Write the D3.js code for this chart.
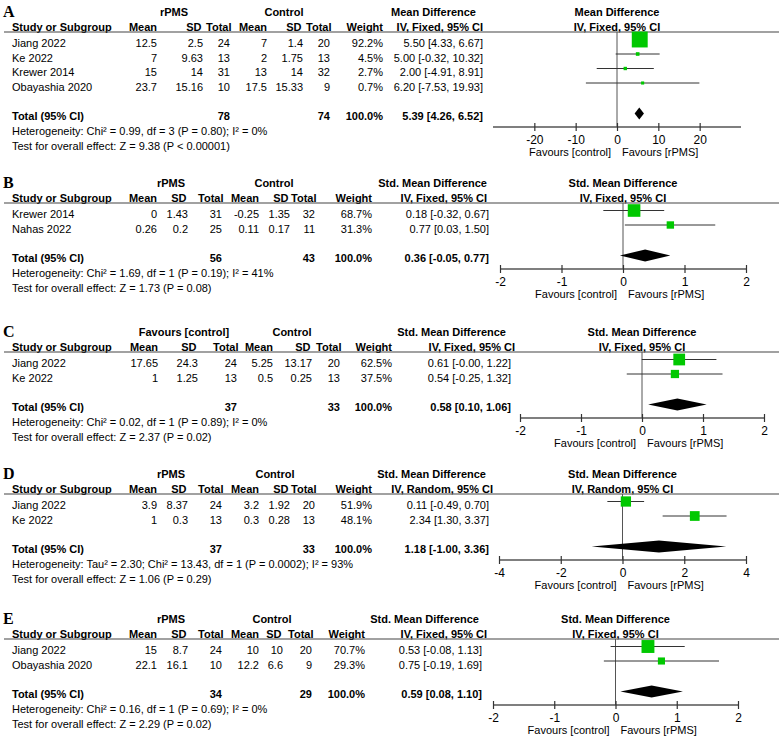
<!DOCTYPE html>
<html>
<head>
<meta charset="utf-8">
<script src="https://cdn.jsdelivr.net/npm/d3@7"></script>
<style>
  body { margin: 0; background: #fff; }
  svg text { font-family: "Liberation Sans", Arial, sans-serif; font-size: 11px; fill: #000; }
  svg text.b { font-weight: bold; }
  svg text.letter { font-family: "Liberation Serif", "Times New Roman", serif; font-size: 16px; font-weight: bold; }
  svg text.tick { font-size: 12px; }
</style>
</head>
<body>
<svg id="chart" width="780" height="737"></svg>
<script>
// ---- data ----
var colHeads = ["Mean", "SD", "Total", "Mean", "SD", "Total", "Weight"];

var studiesA = [
  {name: "Jiang 2022",     m1: 12.5, sd1: 2.5,   n1: 24, m2: 7,    sd2: 1.4,   n2: 20, w: 92.2, est: 5.50, lo: 4.33,  hi: 6.67},
  {name: "Ke 2022",        m1: 7,    sd1: 9.63,  n1: 13, m2: 2,    sd2: 1.75,  n2: 13, w: 4.5,  est: 5.00, lo: -0.32, hi: 10.32},
  {name: "Krewer 2014",    m1: 15,   sd1: 14,    n1: 31, m2: 13,   sd2: 14,    n2: 32, w: 2.7,  est: 2.00, lo: -4.91, hi: 8.91},
  {name: "Obayashia 2020", m1: 23.7, sd1: 15.16, n1: 10, m2: 17.5, sd2: 15.33, n2: 9,  w: 0.7,  est: 6.20, lo: -7.53, hi: 19.93}
];
var totalA = {n1: 78, n2: 74, est: 5.39, lo: 4.26, hi: 6.52};
var textA = ["Heterogeneity: Chi\u00b2 = 0.99, df = 3 (P = 0.80); I\u00b2 = 0%", "Test for overall effect: Z = 9.38 (P < 0.00001)"];
var ticksA = [-20, -10, 0, 10, 20];

var studiesB = [
  {name: "Krewer 2014", m1: 0,    sd1: 1.43, n1: 31, m2: -0.25, sd2: 1.35, n2: 32, w: 68.7, est: 0.18, lo: -0.32, hi: 0.67},
  {name: "Nahas 2022",  m1: 0.26, sd1: 0.2,  n1: 25, m2: 0.11,  sd2: 0.17, n2: 11, w: 31.3, est: 0.77, lo: 0.03,  hi: 1.50}
];
var totalB = {n1: 56, n2: 43, est: 0.36, lo: -0.05, hi: 0.77};
var textB = ["Heterogeneity: Chi\u00b2 = 1.69, df = 1 (P = 0.19); I\u00b2 = 41%", "Test for overall effect: Z = 1.73 (P = 0.08)"];
var ticksB = [-2, -1, 0, 1, 2];

var studiesC = [
  {name: "Jiang 2022", m1: 17.65, sd1: 24.3, n1: 24, m2: 5.25, sd2: 13.17, n2: 20, w: 62.5, est: 0.61, lo: -0.004, hi: 1.22},
  {name: "Ke 2022",    m1: 1,     sd1: 1.25, n1: 13, m2: 0.5,  sd2: 0.25,  n2: 13, w: 37.5, est: 0.54, lo: -0.25,  hi: 1.32}
];
var totalC = {n1: 37, n2: 33, est: 0.58, lo: 0.10, hi: 1.06};
var textC = ["Heterogeneity: Chi\u00b2 = 0.02, df = 1 (P = 0.89); I\u00b2 = 0%", "Test for overall effect: Z = 2.37 (P = 0.02)"];
var ticksC = [-2, -1, 0, 1, 2];

var studiesD = [
  {name: "Jiang 2022", m1: 3.9, sd1: 8.37, n1: 24, m2: 3.2, sd2: 1.92, n2: 20, w: 51.9, est: 0.11, lo: -0.49, hi: 0.70},
  {name: "Ke 2022",    m1: 1,   sd1: 0.3,  n1: 13, m2: 0.3, sd2: 0.28, n2: 13, w: 48.1, est: 2.34, lo: 1.30,  hi: 3.37}
];
var totalD = {n1: 37, n2: 33, est: 1.18, lo: -1.00, hi: 3.36};
var textD = ["Heterogeneity: Tau\u00b2 = 2.30; Chi\u00b2 = 13.43, df = 1 (P = 0.0002); I\u00b2 = 93%", "Test for overall effect: Z = 1.06 (P = 0.29)"];
var ticksD = [-4, -2, 0, 2, 4];

var studiesE = [
  {name: "Jiang 2022",     m1: 15,   sd1: 8.7,  n1: 24, m2: 10,   sd2: 10,  n2: 20, w: 70.7, est: 0.53, lo: -0.08, hi: 1.13},
  {name: "Obayashia 2020", m1: 22.1, sd1: 16.1, n1: 10, m2: 12.2, sd2: 6.6, n2: 9,  w: 29.3, est: 0.75, lo: -0.19, hi: 1.69}
];
var totalE = {n1: 34, n2: 29, est: 0.59, lo: 0.08, hi: 1.10};
var textE = ["Heterogeneity: Chi\u00b2 = 0.16, df = 1 (P = 0.69); I\u00b2 = 0%", "Test for overall effect: Z = 2.29 (P = 0.02)"];
var ticksE = [-2, -1, 0, 1, 2];

// ---- layout per panel ----
var panels = [
  {letter: "A", studies: studiesA, total: totalA, notes: textA, ticks: ticksA, dom: [-30, 30], xr: [493, 741],
   groups: ["rPMS", "Control"], effect: ["Mean Difference", "IV, Fixed, 95% CI"],
   row0: 43, cols: [157, 203, 230, 267, 303, 330, 383], grp: [174, 284], eff: 483, effHead: [476, 483]},
  {letter: "B", studies: studiesB, total: totalB, notes: textB, ticks: ticksB, dom: [-2, 2], xr: [500, 746],
   groups: ["rPMS", "Control"], effect: ["Std. Mean Difference", "IV, Fixed, 95% CI"],
   row0: 214, cols: [157, 188, 222, 259, 290, 315, 372], grp: [171, 274], eff: 489, effHead: [487, 487]},
  {letter: "C", studies: studiesC, total: totalC, notes: textC, ticks: ticksC, dom: [-2, 2], xr: [520, 764],
   groups: ["Favours [control]", "Control"], effect: ["Std. Mean Difference", "IV, Fixed, 95% CI"],
   row0: 363, cols: [158, 198, 237, 273, 312, 340, 392], grp: [184, 292], eff: 511, effHead: [506, 515]},
  {letter: "D", studies: studiesD, total: totalD, notes: textD, ticks: ticksD, dom: [-4, 4], xr: [499, 746],
   groups: ["rPMS", "Control"], effect: ["Std. Mean Difference", "IV, Random, 95% CI"],
   row0: 505, cols: [157, 188, 222, 259, 290, 315, 372], grp: [171, 275], eff: 489, effHead: [486, 493]},
  {letter: "E", studies: studiesE, total: totalE, notes: textE, ticks: ticksE, dom: [-2, 2], xr: [493, 738],
   groups: ["rPMS", "Control"], effect: ["Std. Mean Difference", "IV, Fixed, 95% CI"],
   row0: 650, cols: [157, 188, 222, 259, 283, 312, 365], grp: [171, 272], eff: 482, effHead: [479, 487]}
];
// small nudges so the bold column heads don't run together
var headNudge = [0, -1.5, 1.5, 0, -1.5, 1.5, 0];

var svg = d3.select("#chart");
var boxSize = d3.scaleLinear().domain([0, 100]).range([3, 17]);

function fmtCI(d) {
  return d.est.toFixed(2) + " [" + d.lo.toFixed(2) + ", " + d.hi.toFixed(2) + "]";
}

// text helper: y is the visual centre of the line
function txt(g, x, y, s, anchor, cls) {
  return g.append("text").attr("x", x).attr("y", y + 4)
    .attr("text-anchor", anchor || "start").attr("class", cls || null).text(s);
}

panels.forEach(function(p) {
  var g = svg.append("g");
  var step = 14.5;
  var h1 = p.row0 - 31, h2 = p.row0 - 16, lineY = p.row0 - 11;
  var totY = p.row0 + (p.studies.length - 1) * step + 29;
  var axisY = totY + 11.5;
  var x = d3.scaleLinear().domain(p.dom).range(p.xr);
  var zx = x(0);

  g.append("text").attr("class", "letter").attr("x", 3).attr("y", h1 + 5).text(p.letter);

  // headers
  txt(g, p.grp[0], h1, p.groups[0], "middle", "b");
  txt(g, p.grp[1], h1, p.groups[1], "middle", "b");
  txt(g, p.effHead[0], h1, p.effect[0], "end", "b");
  txt(g, zx, h1, p.effect[0], "middle", "b");
  txt(g, 12, h2, "Study or Subgroup", "start", "b");
  colHeads.forEach(function(c, i) { txt(g, p.cols[i] + headNudge[i], h2, c, "end", "b"); });
  txt(g, p.effHead[1], h2, p.effect[1], "end", "b");
  txt(g, zx, h2, p.effect[1], "middle", "b");
  g.append("line").attr("x1", 4).attr("x2", 779).attr("y1", lineY).attr("y2", lineY)
    .attr("stroke", "#444").attr("stroke-width", 1.2);

  // study rows
  p.studies.forEach(function(d, i) {
    var y = p.row0 + i * step;
    txt(g, 12, y, d.name);
    [d.m1, d.sd1, d.n1, d.m2, d.sd2, d.n2].forEach(function(v, j) { txt(g, p.cols[j], y, String(v), "end"); });
    txt(g, p.cols[6], y, d.w.toFixed(1) + "%", "end");
    txt(g, p.eff, y, fmtCI(d), "end");
  });

  // total row
  txt(g, 12, totY, "Total (95% CI)", "start", "b");
  txt(g, p.cols[2], totY, String(p.total.n1), "end", "b");
  txt(g, p.cols[5], totY, String(p.total.n2), "end", "b");
  txt(g, p.cols[6], totY, "100.0%", "end", "b");
  txt(g, p.eff, totY, fmtCI(p.total), "end", "b");
  txt(g, 12, totY + 15, p.notes[0]);
  txt(g, 12, totY + 30, p.notes[1]);

  // plot: zero line
  g.append("line").attr("x1", zx).attr("x2", zx).attr("y1", lineY).attr("y2", axisY)
    .attr("stroke", "#555").attr("stroke-width", 1);

  // CI lines and boxes
  var marks = g.selectAll("g.st").data(p.studies).enter().append("g").attr("class", "st");
  marks.append("line")
    .attr("x1", function(d) { return x(d.lo); })
    .attr("x2", function(d) { return x(d.hi); })
    .attr("y1", function(d, i) { return p.row0 + i * step - 3.5; })
    .attr("y2", function(d, i) { return p.row0 + i * step - 3.5; })
    .attr("stroke", "#333").attr("stroke-width", 1);
  marks.append("rect")
    .attr("x", function(d) { return x(d.est) - boxSize(d.w) / 2; })
    .attr("y", function(d, i) { return p.row0 + i * step - 3.5 - boxSize(d.w) / 2; })
    .attr("width", function(d) { return boxSize(d.w); })
    .attr("height", function(d) { return boxSize(d.w); })
    .attr("fill", "#00c800");

  // diamond
  var dy = totY - 2;
  g.append("path")
    .attr("d", "M" + x(p.total.lo) + "," + dy + "L" + x(p.total.est) + "," + (dy - 6) +
      "L" + x(p.total.hi) + "," + dy + "L" + x(p.total.est) + "," + (dy + 6) + "Z")
    .attr("fill", "#000");

  // axis
  g.append("line").attr("x1", p.xr[0]).attr("x2", p.xr[1]).attr("y1", axisY).attr("y2", axisY)
    .attr("stroke", "#555").attr("stroke-width", 1.5);
  var ax = g.append("g").attr("transform", "translate(0," + (axisY - 4) + ")")
    .call(d3.axisBottom(x).tickValues(p.ticks).tickSize(8).tickSizeOuter(0).tickPadding(4)
      .tickFormat(function(v) { return String(v); }));
  ax.select(".domain").remove();
  ax.selectAll(".tick line").attr("stroke", "#333").attr("stroke-width", 1.2);
  ax.selectAll(".tick text").attr("class", "tick").attr("fill", "#000");
  ax.attr("font-family", null).attr("font-size", null);

  txt(g, zx - 6, axisY + 25, "Favours [control]", "end");
  txt(g, zx + 5, axisY + 25, "Favours [rPMS]", "start");
});
</script>
</body>
</html>
